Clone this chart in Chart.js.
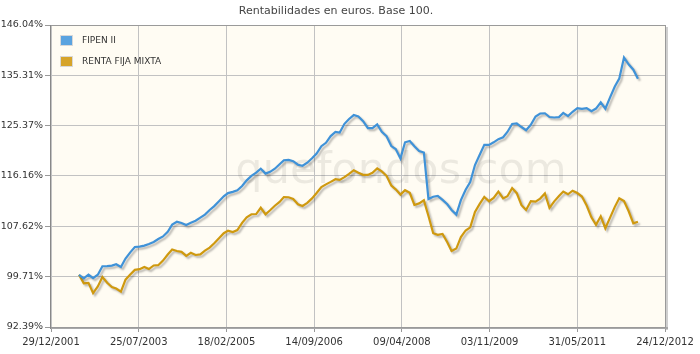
<!DOCTYPE html>
<html lang="es">
<head>
<meta charset="utf-8">
<title>Rentabilidades en euros. Base 100.</title>
<script src="https://cdn.jsdelivr.net/npm/chart.js@4.4.1/dist/chart.umd.min.js"></script>
<style>
    html, body { margin: 0; padding: 0; background: #ffffff; }
    #contenedor { width: 700px; height: 354px; }
</style>
</head>
<body>
<div id="contenedor"><canvas id="grafico" width="700" height="354"></canvas></div>
<script>
// Valores mensuales (fin de mes) desde junio 2002 hasta junio 2012, base 100
const primerMes = { anio: 2002, mes: 6 };

const fipenII = [
    100.00, 99.47, 100.03, 99.48, 100.01, 101.30, 101.31, 101.41, 101.62, 101.19,
    102.49, 103.46, 104.31, 104.36, 104.52, 104.78, 105.11, 105.57, 105.98, 106.75,
    107.91, 108.37, 108.17, 107.85, 108.22, 108.54, 109.05, 109.56, 110.32, 110.97,
    111.80, 112.64, 113.19, 113.39, 113.65, 114.40, 115.39, 116.17, 116.75, 117.46,
    116.58, 116.89, 117.45, 118.25, 118.97, 119.03, 118.79, 118.16, 117.98, 118.52,
    119.32, 120.17, 121.53, 122.16, 123.41, 124.20, 124.07, 125.72, 126.65, 127.40,
    127.13, 126.22, 124.90, 124.89, 125.61, 124.20, 123.39, 121.55, 121.00, 119.30,
    122.25, 122.50, 121.53, 120.65, 120.37, 112.18, 112.57, 112.72, 112.02, 111.28,
    110.33, 109.55, 111.99, 113.76, 115.11, 118.11, 119.97, 121.77, 121.77, 122.24,
    122.83, 123.19, 124.18, 125.69, 125.78, 125.11, 124.51, 125.53, 127.13, 127.71,
    127.75, 127.03, 126.93, 127.01, 127.81, 127.20, 128.04, 128.74, 128.59, 128.74,
    128.14, 128.66, 129.88, 128.63, 130.87, 133.04, 134.63, 139.02, 137.59, 136.48,
    134.63
];

const rentaFijaMixta = [
    100.00, 98.71, 98.78, 97.26, 98.25, 99.66, 98.79, 98.16, 97.94, 97.48,
    99.27, 100.03, 100.75, 100.85, 101.18, 100.87, 101.42, 101.47, 102.18, 103.12,
    103.90, 103.68, 103.54, 102.91, 103.40, 103.05, 103.15, 103.73, 104.20, 104.89,
    105.70, 106.51, 106.90, 106.69, 107.01, 108.19, 109.12, 109.61, 109.65, 110.70,
    109.60, 110.27, 111.04, 111.67, 112.50, 112.48, 112.19, 111.29, 110.99, 111.53,
    112.28, 113.20, 114.24, 114.69, 115.13, 115.60, 115.48, 115.96, 116.52, 117.18,
    116.75, 116.36, 116.34, 116.72, 117.50, 116.98, 116.19, 114.49, 113.83, 112.93,
    113.69, 113.24, 111.17, 111.43, 111.95, 109.33, 106.51, 106.24, 106.40, 105.05,
    103.67, 104.06, 105.90, 106.95, 107.45, 110.01, 111.34, 112.52, 111.80, 112.36,
    113.43, 112.28, 112.64, 114.05, 113.17, 111.12, 110.33, 111.80, 111.72, 112.25,
    113.12, 110.69, 111.78, 112.69, 113.45, 112.98, 113.60, 113.20, 112.60, 111.07,
    109.10, 107.88, 109.28, 107.31, 109.05, 110.85, 112.31, 111.82, 110.15, 108.12,
    108.37
];

// Ejes
const ticksY = [92.39, 99.71, 107.62, 116.16, 125.37, 135.31, 146.04];
const etiquetasX = ['29/12/2001', '25/07/2003', '18/02/2005', '14/09/2006',
                    '09/04/2008', '03/11/2009', '31/05/2011', '24/12/2012'];
const fechaOrigen = new Date(2001, 11, 29);
const fechaFin = new Date(2012, 11, 24);

const colores = {
    azul: '#3f92d8',
    oro: '#cf990f',
    azulLeyenda: '#5aa3e0',
    oroLeyenda: '#d6a42a',
    fondo: '#fffcf3',
    rejilla: '#c2c2c2',
    texto: '#333333'
};

const diaMs = 86400000;
const diasTotales = Math.round((fechaFin - fechaOrigen) / diaMs);

// Convierte una serie mensual en puntos {x: dias desde el origen, y: valor}
function puntos(serie) {
    return serie.map((valor, i) => {
        const fecha = new Date(primerMes.anio, primerMes.mes + i, 0);
        return { x: Math.round((fecha - fechaOrigen) / diaMs), y: valor };
    });
}

// Fondo, marca de agua, sombra de las lineas, marco, leyenda y titulo
const decoracion = {
    id: 'decoracion',
    beforeDraw(chart) {
        const { ctx, chartArea: a } = chart;
        ctx.save();
        ctx.fillStyle = colores.fondo;
        ctx.fillRect(a.left, a.top, a.right - a.left, a.bottom - a.top);
        ctx.restore();
    },
    beforeDatasetsDraw(chart) {
        const { ctx, chartArea: a } = chart;
        ctx.save();
        ctx.font = '43px "DejaVu Sans"';
        ctx.fillStyle = 'rgba(0, 0, 0, 0.075)';
        ctx.textAlign = 'center';
        ctx.textBaseline = 'alphabetic';
        ctx.fillText('quefondos.com', a.left + (a.right - a.left) * 0.57, a.top + 158);
        ctx.restore();

        ctx.save();
        ctx.shadowColor = 'rgba(0, 0, 0, 0.28)';
        ctx.shadowOffsetX = 2;
        ctx.shadowOffsetY = 2;
        ctx.shadowBlur = 2;
    },
    afterDatasetsDraw(chart) {
        chart.ctx.restore();
    },
    afterDraw(chart) {
        const { ctx, chartArea: a } = chart;
        const ancho = a.right - a.left;
        const alto = a.bottom - a.top;
        ctx.save();

        // sombra del marco
        ctx.fillStyle = '#cfcfcf';
        ctx.fillRect(a.right + 1, a.top + 2, 2, alto + 1);
        ctx.fillStyle = '#a8a8a8';
        ctx.fillRect(a.left, a.bottom, ancho + 3, 2);

        // marco
        ctx.strokeStyle = '#9a9a9a';
        ctx.lineWidth = 1;
        ctx.strokeRect(a.left - 0.5, a.top + 0.5, ancho + 1, alto);
        ctx.strokeStyle = '#888888';
        ctx.beginPath();
        ctx.moveTo(a.left - 0.5, a.top);
        ctx.lineTo(a.left - 0.5, a.bottom + 2);
        ctx.stroke();

        // leyenda
        const items = [
            { texto: chart.data.datasets[0].label, color: colores.azulLeyenda },
            { texto: chart.data.datasets[1].label, color: colores.oroLeyenda }
        ];
        ctx.font = '9px "DejaVu Sans"';
        ctx.textBaseline = 'middle';
        ctx.textAlign = 'left';
        items.forEach((item, i) => {
            const y = a.top + 10 + i * 21;
            ctx.fillStyle = '#d8d8d8';
            ctx.fillRect(a.left + 9, y, 13, 11);
            ctx.fillStyle = item.color;
            ctx.fillRect(a.left + 10, y + 1, 11, 9);
            ctx.fillStyle = colores.texto;
            ctx.fillText(item.texto, a.left + 31, y + 5.5);
        });

        // titulo
        ctx.font = '11px "DejaVu Sans"';
        ctx.textAlign = 'center';
        ctx.fillStyle = '#444444';
        ctx.fillText('Rentabilidades en euros. Base 100.', 336, 11);
        ctx.restore();
    }
};

const fuenteEje = { family: 'DejaVu Sans', size: 10 };

new Chart(document.getElementById('grafico'), {
    type: 'line',
    data: {
        datasets: [
            {
                label: 'FIPEN II',
                data: puntos(fipenII),
                borderColor: colores.azul,
                borderWidth: 2.2,
                pointRadius: 0,
                tension: 0,
                fill: false
            },
            {
                label: 'RENTA FIJA MIXTA',
                data: puntos(rentaFijaMixta),
                borderColor: colores.oro,
                borderWidth: 2.2,
                pointRadius: 0,
                tension: 0,
                fill: false
            }
        ]
    },
    options: {
        responsive: false,
        animation: false,
        layout: { padding: { top: 25, right: 35, bottom: 0, left: 0 } },
        plugins: {
            legend: { display: false },
            title: { display: false },
            tooltip: { enabled: false }
        },
        scales: {
            x: {
                type: 'linear',
                min: 0,
                max: diasTotales,
                afterBuildTicks: escala => {
                    escala.ticks = etiquetasX.map((_, i) => ({ value: i * diasTotales / (etiquetasX.length - 1) }));
                },
                afterFit: escala => { escala.height = 27; },
                ticks: {
                    callback: (valor, indice) => etiquetasX[indice],
                    autoSkip: false,
                    maxRotation: 0,
                    padding: 4,
                    color: colores.texto,
                    font: fuenteEje
                },
                grid: { color: colores.rejilla, tickLength: 5, tickColor: '#999999' },
                border: { display: false }
            },
            y: {
                type: 'logarithmic',
                min: ticksY[0],
                max: ticksY[ticksY.length - 1],
                afterBuildTicks: escala => {
                    escala.ticks = ticksY.map(v => ({ value: v }));
                },
                afterFit: escala => { escala.width = 51; },
                ticks: {
                    callback: valor => valor.toFixed(2) + '%',
                    padding: 2,
                    color: colores.texto,
                    font: { family: 'DejaVu Sans', size: 9.5 }
                },
                grid: { color: colores.rejilla, tickLength: 6, tickColor: '#999999' },
                border: { display: false }
            }
        }
    },
    plugins: [decoracion]
});
</script>
</body>
</html>
